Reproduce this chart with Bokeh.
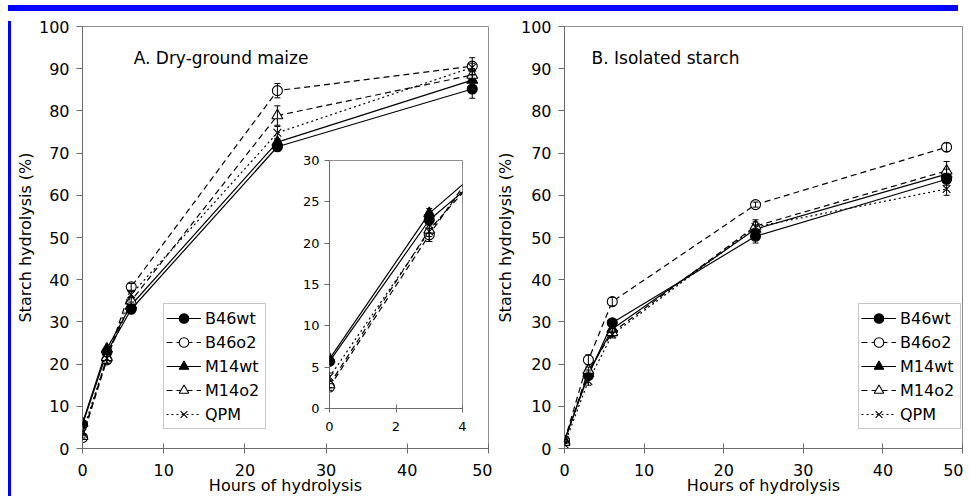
import math
from bokeh.plotting import figure
from bokeh.models import (ColumnDataSource, Whisker, TeeHead, Legend, LegendItem,
                          FixedTicker, Range1d, Label, GridBox, Div, Spacer)
from bokeh.layouts import row, column
from bokeh.embed import file_html
from bokeh.resources import INLINE

# ---------------- data ----------------
hours = [0, 3, 6, 24, 48]
series = ["B46wt", "B46o2", "M14wt", "M14o2", "QPM"]

# Panel A: dry-ground maize, starch hydrolysis (%)
a_b46wt = [5.7, 22.8, 33.0, 71.5, 85.2]
a_b46o2 = [2.6, 21.0, 38.3, 84.8, 90.6]
a_m14wt = [6.0, 23.6, 34.0, 72.6, 87.3]
a_m14o2 = [2.9, 21.6, 35.0, 78.9, 88.5]
a_qpm = [3.8, 21.4, 36.5, 74.8, 90.3]
a_b46wt_err = [0.4, 0.6, 0.8, 1.0, 2.2]
a_b46o2_err = [0.4, 0.8, 0.8, 1.7, 2.0]
a_m14wt_err = [0.3, 0.6, 0.7, 0.8, 1.2]
a_m14o2_err = [0.4, 0.8, 0.9, 2.3, 1.5]
a_qpm_err = [0.5, 1.2, 0.8, 1.5, 1.0]

# Panel B: isolated starch, starch hydrolysis (%)
b_b46wt = [2.0, 17.3, 29.8, 50.3, 63.8]
b_b46o2 = [1.8, 21.0, 34.8, 57.8, 71.4]
b_m14wt = [1.8, 17.8, 28.3, 52.0, 65.0]
b_m14o2 = [1.5, 18.5, 27.5, 52.7, 65.8]
b_qpm = [1.0, 16.0, 27.0, 52.5, 61.5]
b_b46wt_err = [0.3, 0.8, 0.6, 1.6, 1.4]
b_b46o2_err = [0.3, 1.2, 1.0, 0.6, 1.0]
b_m14wt_err = [0.3, 0.8, 0.8, 1.0, 1.2]
b_m14o2_err = [0.3, 0.8, 1.0, 1.5, 2.2]
b_qpm_err = [0.3, 1.0, 0.8, 1.2, 1.5]

x_ticks = [0, 10, 20, 30, 40, 50]
y_ticks = [0, 10, 20, 30, 40, 50, 60, 70, 80, 90, 100]
inset_x_ticks = [0, 2, 4]
inset_y_ticks = [0, 5, 10, 15, 20, 25, 30]

panel_a_title = "A. Dry-ground maize"
panel_b_title = "B. Isolated starch"
x_label = "Hours of hydrolysis"
y_label = "Starch hydrolysis (%)"

# ---------------- styles ----------------
FONT = "DejaVu Sans"
AXIS_GREY = "#6a6a6a"
FRAME_GREY = "#8f8f8f"
BLUE = "#0000ff"
H = 482  # height of each panel canvas

STYLE = {
    "B46wt": dict(marker="circle", fill="black", dash="solid", size=10),
    "B46o2": dict(marker="circle", fill="white", dash="6 4", size=10),
    "M14wt": dict(marker="triangle", fill="black", dash="solid", size=11),
    "M14o2": dict(marker="triangle", fill="white", dash="6 4", size=11),
    "QPM": dict(marker="x", fill="black", dash="2 3", size=11),
}


def no_align(fig):
    try:
        fig.frame_align = False
    except Exception:
        pass


def add_series(p, xs, ys, errs, name, xmax=None):
    st = STYLE[name]
    ln = p.line(xs, ys, line_color="black", line_width=1.2, line_dash=st["dash"])
    keep = [i for i, x in enumerate(xs) if xmax is None or x <= xmax]
    src = ColumnDataSource(dict(x=[xs[i] for i in keep],
                                lo=[ys[i] - errs[i] for i in keep],
                                hi=[ys[i] + errs[i] for i in keep]))
    wh = Whisker(base="x", lower="lo", upper="hi", source=src,
                 line_color="black", line_width=1, level="annotation",
                 upper_head=TeeHead(size=6, line_color="black", line_width=1),
                 lower_head=TeeHead(size=6, line_color="black", line_width=1))
    p.add_layout(wh)
    mk = p.scatter(xs, ys, marker=st["marker"], size=st["size"],
                   fill_color=st["fill"], line_color="black", line_width=1.1)
    return ln, mk


def style_axes(p, xt, yt, tick_size, x_in, x_out, y_out, x_stand, y_stand):
    for ax in list(p.xaxis) + list(p.yaxis):
        ax.axis_line_color = AXIS_GREY
        ax.major_tick_line_color = AXIS_GREY
        ax.minor_tick_line_color = None
        ax.major_label_text_font = FONT
        ax.major_label_text_font_size = tick_size
        ax.major_label_text_color = "black"
    p.xaxis.ticker = FixedTicker(ticks=xt)
    p.yaxis.ticker = FixedTicker(ticks=yt)
    p.xaxis.major_tick_in = x_in
    p.xaxis.major_tick_out = x_out
    p.yaxis.major_tick_in = 0
    p.yaxis.major_tick_out = y_out
    p.xaxis.major_label_standoff = x_stand
    p.yaxis.major_label_standoff = y_stand
    p.grid.visible = False
    p.outline_line_color = FRAME_GREY
    p.outline_line_width = 1


def make_main(width, min_left, frame_w, title, title_x, data, legend_xy):
    p = figure(width=width, height=H, x_range=Range1d(0, 50), y_range=Range1d(0, 100),
               output_backend="svg", toolbar_location=None,
               min_border_left=min_left, min_border_right=width - min_left - frame_w,
               min_border_top=10, min_border_bottom=50)
    no_align(p)
    p.background_fill_color = "white"
    p.border_fill_color = "white"
    style_axes(p, x_ticks, y_ticks, "16px", 5, 5, 6, 10, 7)
    items = []
    for name, ys, errs in data:
        ln, mk = add_series(p, hours, ys, errs, name)
        items.append(LegendItem(label=name, renderers=[ln, mk]))
    leg = Legend(items=items, location=legend_xy,
                 border_line_color=FRAME_GREY, border_line_width=1,
                 background_fill_color="white", background_fill_alpha=1,
                 label_text_font=FONT, label_text_font_size="16px", label_text_color="black",
                 glyph_width=35, glyph_height=24, label_height=24, label_width=58,
                 label_standoff=4, spacing=0, padding=2, margin=0)
    p.add_layout(leg)
    p.add_layout(Label(x=title_x, y=92.6, text=title, text_font=FONT,
                       text_font_size="17px", text_baseline="alphabetic", text_color="black"))
    return p


def title_overlay(width, ylab_x, xlab_x):
    # transparent canvas of the same size as the panel, carrying the axis titles
    t = figure(width=width, height=H, x_range=Range1d(0, width), y_range=Range1d(0, H),
               x_axis_type=None, y_axis_type=None, output_backend="svg",
               toolbar_location=None, min_border=0,
               min_border_left=0, min_border_right=0, min_border_top=0, min_border_bottom=0)
    no_align(t)
    t.title.visible = False
    t.outline_line_color = None
    t.background_fill_color = None
    t.border_fill_color = None
    t.grid.visible = False
    t.add_layout(Label(x=ylab_x, y=H - 221, text=y_label, text_font=FONT,
                       text_font_size="16px", text_align="center", text_baseline="middle",
                       angle=math.pi / 2, text_color="black"))
    t.add_layout(Label(x=xlab_x, y=H - 469, text=x_label, text_font=FONT,
                       text_font_size="16px", text_align="center",
                       text_baseline="alphabetic", text_color="black"))
    return t


data_a = [("B46wt", a_b46wt, a_b46wt_err), ("B46o2", a_b46o2, a_b46o2_err),
          ("M14wt", a_m14wt, a_m14wt_err), ("M14o2", a_m14o2, a_m14o2_err),
          ("QPM", a_qpm, a_qpm_err)]
data_b = [("B46wt", b_b46wt, b_b46wt_err), ("B46o2", b_b46o2, b_b46o2_err),
          ("M14wt", b_m14wt, b_m14wt_err), ("M14o2", b_m14o2, b_m14o2_err),
          ("QPM", b_qpm, b_qpm_err)]

p_a = make_main(476, 66, 406, panel_a_title, 6.3, data_a, (81, 19))
p_b = make_main(471, 72, 398, panel_b_title, 3.4, data_b, (294, 19))

# ---------------- inset (panel A, first hours) ----------------
p_in = figure(width=179, height=296, x_range=Range1d(0, 4), y_range=Range1d(0, 30),
              output_backend="svg", toolbar_location=None,
              min_border_left=40, min_border_right=6, min_border_top=8, min_border_bottom=40)
no_align(p_in)
p_in.background_fill_color = "white"
p_in.border_fill_color = None
style_axes(p_in, inset_x_ticks, inset_y_ticks, "13px", 4, 4, 5, 9, 5)
for name, ys, errs in data_a:
    add_series(p_in, hours, ys, errs, name, xmax=inset_x_ticks[-1])

# ---------------- axis titles ----------------
t_a = title_overlay(476, 9, 269)
t_b = title_overlay(471, 12.5, 271)

grid_a = GridBox(children=[(p_a, 0, 0, 3, 3), (p_in, 1, 1, 1, 1), (t_a, 0, 0, 3, 3)],
                 rows=["136px", "296px", "50px"],
                 cols=["273px", "179px", "24px"])
grid_b = GridBox(children=[(p_b, 0, 0, 1, 1), (t_b, 0, 0, 1, 1)],
                 rows=["482px"], cols=["471px"])

top_bar = row(Spacer(width=3, height=6),
              Div(text="", width=950, height=6, styles={"background-color": BLUE}))
body = row(Spacer(width=3, height=H),
           Div(text="", width=3, height=H, styles={"background-color": BLUE}),
           grid_a, grid_b)
layout = column(top_bar, body, styles={"margin-bottom": "-8px"})

open("out.html", "w").write(file_html(layout, INLINE))
